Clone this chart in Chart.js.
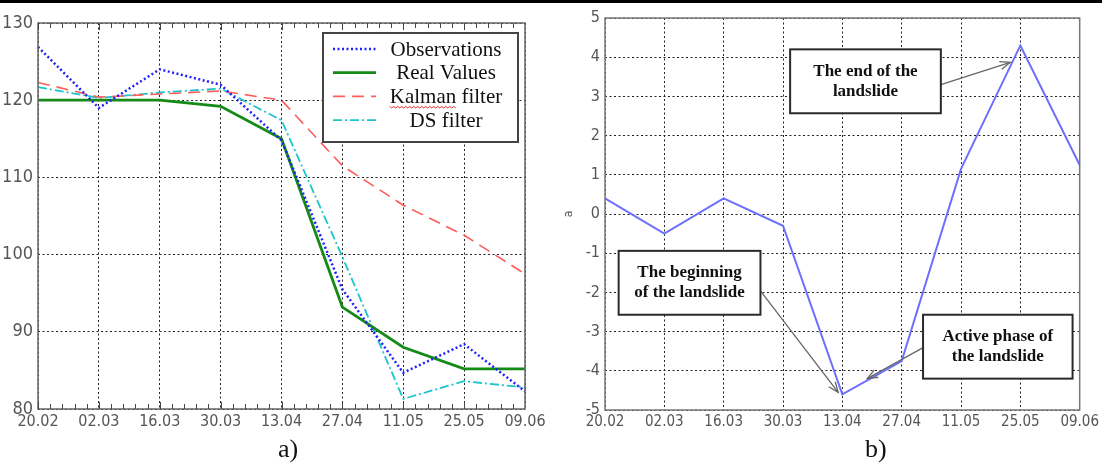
<!DOCTYPE html>
<html>
<head>
<meta charset="utf-8">
<script src="https://cdn.jsdelivr.net/npm/chart.js@4.4.1/dist/chart.umd.min.js"></script>
<style>
  body { margin: 0; background: #fff; width: 1102px; height: 463px; overflow: hidden; position: relative; }
  #topbar { position: absolute; left: 0; top: 0; width: 1102px; height: 3px; background: #000; }
  .wrap { position: absolute; top: 0; height: 440px; }
  .cap { position: absolute; top: 436px; font: 26px/26px "Liberation Serif", "Times New Roman", serif; color: #111; }
</style>
</head>
<body>
<div id="topbar"></div>
<div class="wrap" style="left:0;width:560px"><canvas id="chartA"></canvas></div>
<div class="wrap" style="left:550px;width:552px"><canvas id="chartB"></canvas></div>
<div class="cap" style="left:278px">a)</div>
<div class="cap" style="left:865px">b)</div>

<script>
// data
const dates = ['20.02', '02.03', '16.03', '30.03', '13.04', '27.04', '11.05', '25.05', '09.06'];
const observations = [126.9, 119, 124, 122, 114.8, 95.5, 84.7, 88.4, 82.3];
const realValues = [120, 120, 120, 119.2, 115, 93.2, 88, 85.2, 85.2];
const kalmanFilter = [122.3, 120.4, 120.8, 121.2, 120, 111.5, 106.4, 102.5, 97.5];
const dsFilter = [121.7, 120.3, 121, 121.5, 117.4, 99.7, 81.3, 83.6, 82.8];
const acceleration = [0.4, -0.5, 0.4, -0.3, -4.6, -3.75, 1.15, 4.3, 1.25];

const seriesNames = ['Observations', 'Real Values', 'Kalman filter', 'DS filter'];
const noteLines = [
    ['The end of the', 'landslide'],
    ['The beginning', 'of the landslide'],
    ['Active phase of', 'the landslide']
];

const tickFont = "'Liberation Sans Narrow', 'DejaVu Sans Condensed', 'Liberation Sans', sans-serif";
const serif = "'Liberation Serif', 'Times New Roman', serif";

// frame around the plot area
const frame = {
    id: 'frame',
    afterDatasetsDraw(chart, args, opts) {
        const { ctx, chartArea: a } = chart;
        ctx.save();
        ctx.strokeStyle = opts.color || '#666';
        ctx.lineWidth = 1.5;
        ctx.strokeRect(a.left, a.top, a.right - a.left, a.bottom - a.top);
        ctx.restore();
    }
};

// small inward ticks on top and bottom edges (chart a only)
const minorTicks = {
    id: 'minorTicks',
    afterDatasetsDraw(chart) {
        const { ctx, chartArea: a, scales: { x } } = chart;
        ctx.save();
        ctx.strokeStyle = '#444';
        ctx.lineWidth = 1;
        ctx.beginPath();
        for (let i = 0; i < dates.length - 1; i++) {
            const p0 = x.getPixelForValue(i);
            const p1 = x.getPixelForValue(i + 1);
            for (let k = 0; k <= 4; k++) {
                const px = Math.round(p0 + k * (p1 - p0) / 5) + 0.5;
                const len = k === 0 ? 7 : 5;
                ctx.moveTo(px, a.bottom); ctx.lineTo(px, a.bottom - len);
                ctx.moveTo(px, a.top); ctx.lineTo(px, a.top + len);
            }
        }
        ctx.stroke();
        ctx.restore();
    }
};

// legend box inside the plot, like the matlab one
const legendBox = {
    id: 'legendBox',
    afterDatasetsDraw(chart) {
        const { ctx, chartArea: a } = chart;
        const left = a.right - 202, top = a.top + 10, w = 195, h = 109;
        ctx.save();
        ctx.fillStyle = '#fff';
        ctx.fillRect(left, top, w, h);
        ctx.strokeStyle = '#444';
        ctx.lineWidth = 2;
        ctx.strokeRect(left, top, w, h);
        chart.data.datasets.forEach((ds, i) => {
            const y = top + 16 + i * 23.7;
            ctx.strokeStyle = ds.borderColor;
            ctx.lineWidth = ds.borderWidth;
            ctx.setLineDash(ds.borderDash || []);
            ctx.beginPath();
            ctx.moveTo(left + 10, y);
            ctx.lineTo(left + 53, y);
            ctx.stroke();
            ctx.setLineDash([]);
            ctx.fillStyle = '#111';
            ctx.font = '21px ' + serif;
            ctx.textAlign = 'center';
            ctx.textBaseline = 'middle';
            ctx.fillText(ds.label, left + 123, y + 1);
            if (ds.label === 'Kalman filter') {
                // word's red spell-check squiggle under "Kalman"
                const tw = ctx.measureText('Kalman filter').width;
                const sx = left + 123 - tw / 2;
                const ew = ctx.measureText('Kalman').width;
                ctx.strokeStyle = '#e03030';
                ctx.lineWidth = 1;
                ctx.beginPath();
                for (let t = 0; t <= ew; t += 2) {
                    const yy = y + 10 + ((t / 2) % 2 === 0 ? 0 : 1.6);
                    if (t === 0) ctx.moveTo(sx + t, yy); else ctx.lineTo(sx + t, yy);
                }
                ctx.stroke();
            }
        });
        ctx.restore();
    }
};

function arrow(ctx, x1, y1, x2, y2) {
    ctx.beginPath();
    ctx.moveTo(x1, y1);
    ctx.lineTo(x2, y2);
    ctx.stroke();
    const ang = Math.atan2(y2 - y1, x2 - x1), L = 11, w = 0.38;
    ctx.beginPath();
    ctx.moveTo(x2 - L * Math.cos(ang - w), y2 - L * Math.sin(ang - w));
    ctx.lineTo(x2, y2);
    ctx.lineTo(x2 - L * Math.cos(ang + w), y2 - L * Math.sin(ang + w));
    ctx.stroke();
}

// text boxes with arrows (chart b), placed in axis units
const notes = {
    id: 'notes',
    afterDraw(chart) {
        const { ctx, scales: { x, y } } = chart;
        const boxes = [
            { x0: 3.12, x1: 5.66, y0: 4.2, y1: 2.57, from: [5.66, 3.3], to: [6.83, 3.87] },
            { x0: 0.23, x1: 2.62, y0: -0.94, y1: -2.57, from: [2.62, -1.96], to: [3.93, -4.55] },
            { x0: 5.36, x1: 7.88, y0: -2.57, y1: -4.2, from: [5.36, -3.41], to: [4.42, -4.2] }
        ];
        ctx.save();
        boxes.forEach((b, i) => {
            const l = x.getPixelForValue(b.x0), r = x.getPixelForValue(b.x1);
            const t = y.getPixelForValue(b.y0), btm = y.getPixelForValue(b.y1);
            ctx.strokeStyle = '#666';
            ctx.lineWidth = 1.3;
            arrow(ctx, x.getPixelForValue(b.from[0]), y.getPixelForValue(b.from[1]),
                x.getPixelForValue(b.to[0]), y.getPixelForValue(b.to[1]));
            ctx.fillStyle = '#fff';
            ctx.fillRect(l, t, r - l, btm - t);
            ctx.strokeStyle = '#2a2a2a';
            ctx.lineWidth = 2;
            ctx.strokeRect(l, t, r - l, btm - t);
            ctx.fillStyle = '#111';
            ctx.font = 'bold 17px ' + serif;
            ctx.textAlign = 'center';
            ctx.textBaseline = 'middle';
            const cx = (l + r) / 2, cy = (t + btm) / 2;
            ctx.fillText(noteLines[i][0], cx, cy - 10);
            ctx.fillText(noteLines[i][1], cx, cy + 10);
        });
        ctx.restore();
    }
};

const gridStyle = { color: '#222', lineWidth: 1, drawTicks: false };
const dotted = { display: false, dash: [2, 2.5] };

// Chart a
new Chart(document.getElementById('chartA').getContext('2d'), {
    type: 'line',
    data: {
        labels: dates,
        datasets: [
            { label: seriesNames[0], data: observations, borderColor: '#2020ff', borderWidth: 2.5, borderDash: [2, 2.5] },
            { label: seriesNames[1], data: realValues, borderColor: '#168a16', borderWidth: 2.8 },
            { label: seriesNames[2], data: kalmanFilter, borderColor: '#ff5c5c', borderWidth: 1.6, borderDash: [12, 7] },
            { label: seriesNames[3], data: dsFilter, borderColor: '#1ec4cc', borderWidth: 1.8, borderDash: [9, 3, 2, 3] }
        ]
    },
    options: {
        responsive: true,
        maintainAspectRatio: false,
        animation: false,
        layout: { padding: { top: 23, right: 35, left: 0, bottom: 0 } },
        elements: { point: { radius: 0 }, line: { tension: 0, fill: false } },
        plugins: { legend: { display: false }, tooltip: { enabled: false }, frame: { color: '#666' } },
        scales: {
            x: {
                grid: gridStyle,
                border: dotted,
                ticks: { color: '#555', padding: 3, maxRotation: 0, autoSkip: false, font: { family: tickFont, size: 16 } },
                afterFit: s => { s.height = 31; }
            },
            y: {
                min: 80, max: 130,
                grid: gridStyle,
                border: dotted,
                ticks: { stepSize: 10, color: '#555', padding: 5, font: { family: tickFont, size: 18 } },
                afterFit: s => { s.width = 38; }
            }
        }
    },
    plugins: [frame, minorTicks, legendBox]
});

// Chart b
new Chart(document.getElementById('chartB').getContext('2d'), {
    type: 'line',
    data: {
        labels: dates,
        datasets: [
            { label: 'a', data: acceleration, borderColor: '#6e6eff', borderWidth: 2 }
        ]
    },
    options: {
        responsive: true,
        maintainAspectRatio: false,
        animation: false,
        layout: { padding: { top: 18, right: 18, left: 0, bottom: 0 } },
        elements: { point: { radius: 0 }, line: { tension: 0, fill: false } },
        plugins: { legend: { display: false }, tooltip: { enabled: false }, frame: { color: '#777' } },
        scales: {
            x: {
                grid: gridStyle,
                border: dotted,
                ticks: { color: '#555', padding: 3, maxRotation: 0, autoSkip: false, font: { family: tickFont, size: 15 } },
                afterFit: s => { s.height = 30; }
            },
            y: {
                min: -5, max: 5,
                grid: gridStyle,
                border: dotted,
                title: { display: true, text: 'a', color: '#555', font: { family: tickFont, size: 12 }, padding: { top: 12, bottom: 0 } },
                ticks: { stepSize: 1, color: '#555', padding: 5, font: { family: tickFont, size: 16 } },
                afterFit: s => { s.width = 55; }
            }
        }
    },
    plugins: [frame, notes]
});
</script>
</body>
</html>
